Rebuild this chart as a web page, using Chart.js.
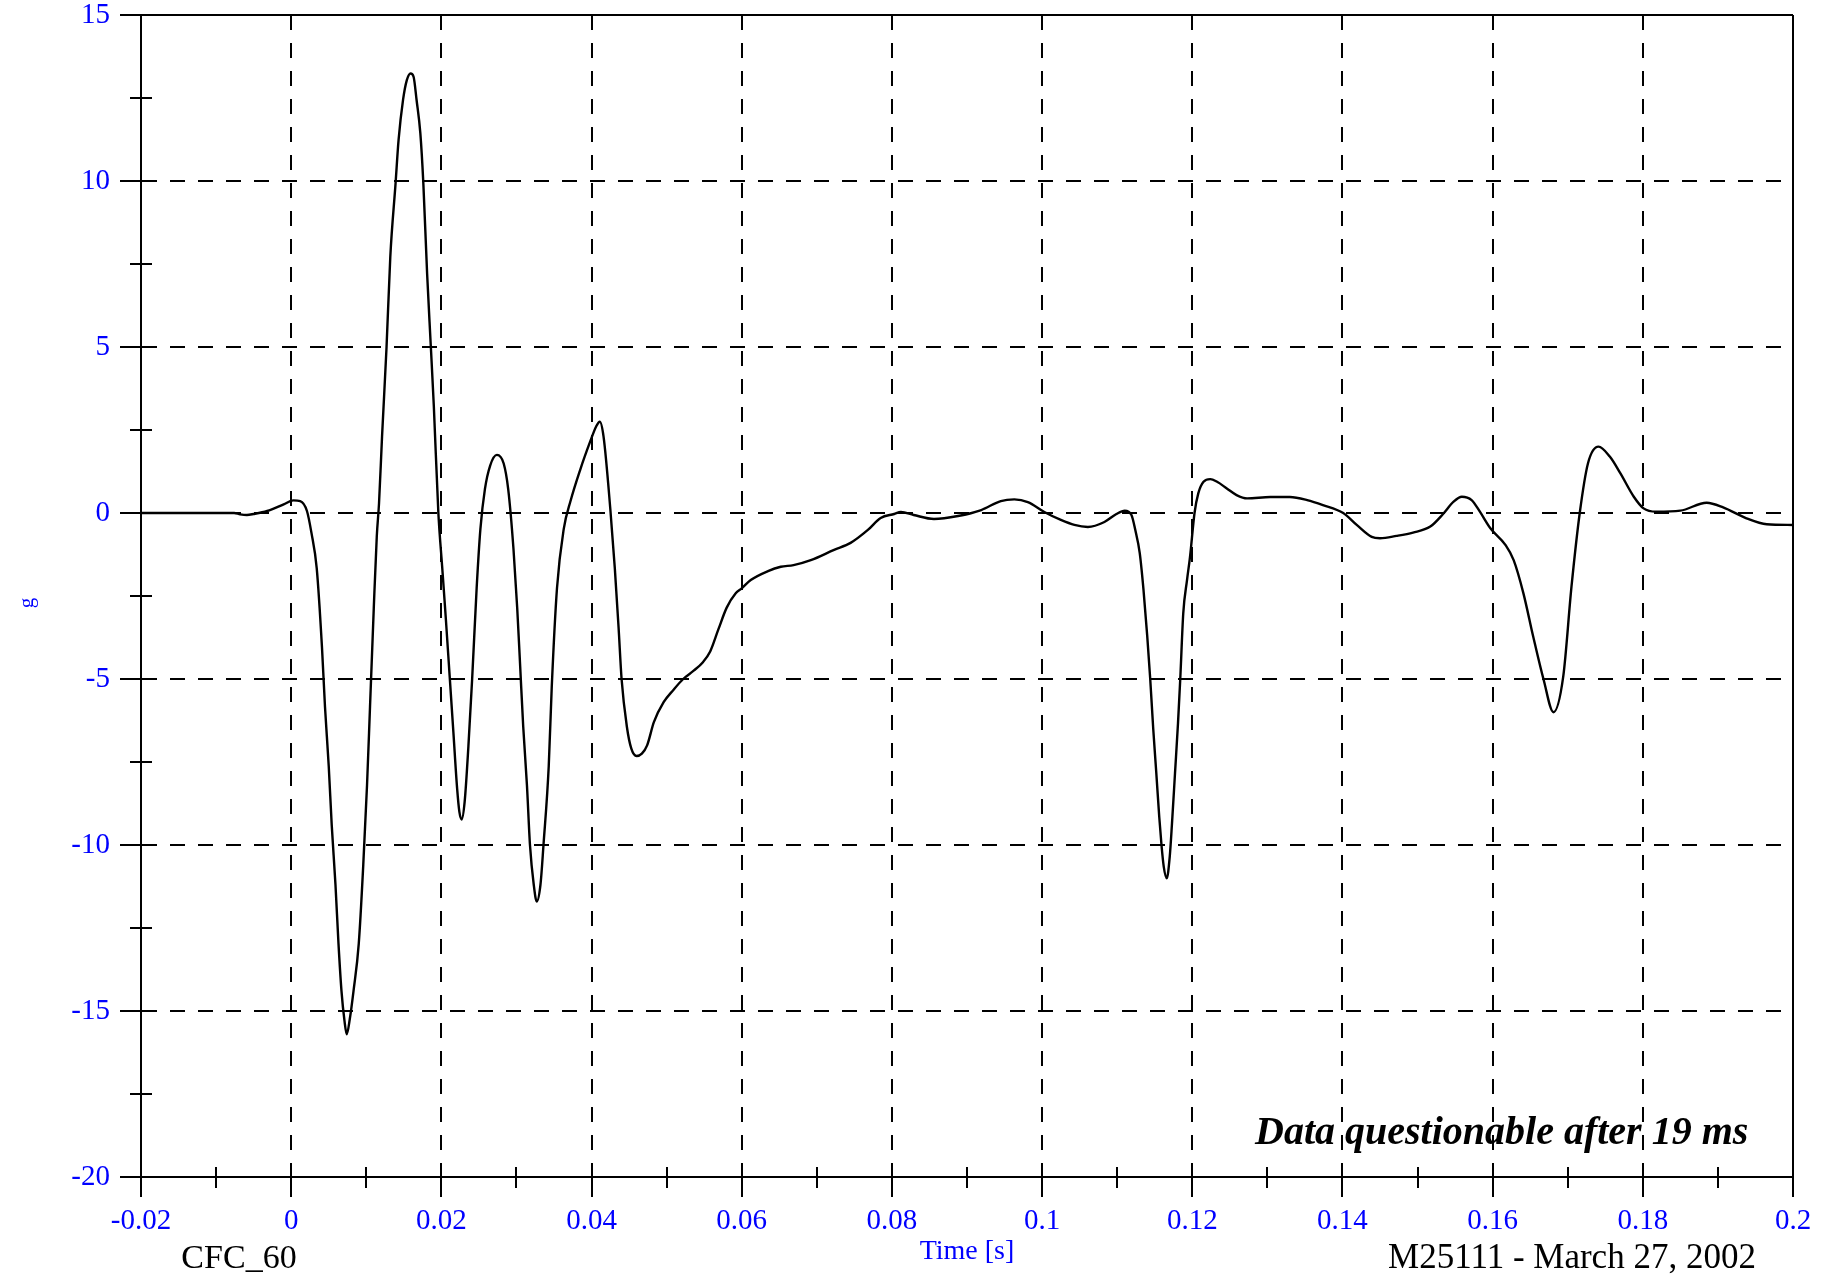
<!DOCTYPE html>
<html>
<head>
<meta charset="utf-8">
<title>CFC_60 - M25111</title>
<script src="https://cdn.jsdelivr.net/npm/chart.js@4.4.1/dist/chart.umd.min.js"></script>
<style>
  html, body { margin: 0; padding: 0; background: #fff; }
  #wrap { width: 1835px; height: 1277px; }
</style>
</head>
<body>
<div id="wrap"><canvas id="plot" width="1835" height="1277"></canvas></div>
<script>
/* acceleration trace (g) against time (s) */

const xTickValues = [-0.02, 0, 0.02, 0.04, 0.06, 0.08, 0.1, 0.12, 0.14, 0.16, 0.18, 0.2];
const xTickLabels = ['-0.02', '0', '0.02', '0.04', '0.06', '0.08', '0.1', '0.12', '0.14', '0.16', '0.18', '0.2'];
const yTickValues = [-20, -15, -10, -5, 0, 5, 10, 15];
const yTickLabels = ['-20', '-15', '-10', '-5', '0', '5', '10', '15'];

const timeS = [
    -0.02, -0.0076, -0.0068, -0.0059, -0.0050, -0.0032, -0.0010, 0.0003, 0.0012, 0.0021,
    0.0027, 0.0034, 0.0041, 0.0045, 0.0050, 0.0054, 0.0059, 0.0063, 0.0067, 0.0071,
    0.0074, 0.0078, 0.0083, 0.0090, 0.0096, 0.0101, 0.0105, 0.0110, 0.0114, 0.0117,
    0.0121, 0.0127, 0.0132, 0.0139, 0.0143, 0.0149, 0.0154, 0.0159, 0.0163, 0.0167,
    0.0172, 0.0176, 0.0181, 0.0186, 0.0190, 0.0196, 0.0201, 0.0206, 0.0211, 0.0216,
    0.0221, 0.0224, 0.0227, 0.0231, 0.0236, 0.0241, 0.0247, 0.0252, 0.0258, 0.0265,
    0.0274, 0.0283, 0.0289, 0.0296, 0.0301, 0.0305, 0.0309, 0.0314, 0.0318, 0.0323,
    0.0327, 0.0332, 0.0336, 0.0343, 0.0347, 0.0354, 0.0363, 0.0372, 0.0385, 0.0398,
    0.0406, 0.0411, 0.0416, 0.0425, 0.0431, 0.0436, 0.0440, 0.0447, 0.0453, 0.0460,
    0.0467, 0.0474, 0.0483, 0.0496, 0.0509, 0.0522, 0.0536, 0.0548, 0.0558, 0.0569,
    0.0580, 0.0592, 0.0600, 0.0612, 0.0635, 0.0652, 0.0669, 0.0692, 0.0723, 0.0745,
    0.0768, 0.0785, 0.0803, 0.0812, 0.0829, 0.0856, 0.0888, 0.0919, 0.0945, 0.0963,
    0.0981, 0.1003, 0.1025, 0.1043, 0.1061, 0.1083, 0.1099, 0.1110, 0.1119, 0.1124,
    0.1130, 0.1135, 0.1140, 0.1144, 0.1148, 0.1152, 0.1156, 0.1159, 0.1162, 0.1166,
    0.1170, 0.1173, 0.1177, 0.1181, 0.1184, 0.1188, 0.1193, 0.1197, 0.1203, 0.1208,
    0.1215, 0.1224, 0.1233, 0.1246, 0.1259, 0.1273, 0.1304, 0.1330, 0.1353, 0.1374,
    0.1401, 0.1419, 0.1439, 0.1450, 0.1472, 0.1494, 0.1517, 0.1534, 0.1548, 0.1559,
    0.1572, 0.1583, 0.1597, 0.1617, 0.1628, 0.1641, 0.1654, 0.1668, 0.1681, 0.1694,
    0.1705, 0.1716, 0.1727, 0.1741, 0.1756, 0.1770, 0.1788, 0.1801, 0.1818, 0.1850,
    0.1885, 0.1907, 0.1938, 0.1965, 0.2000
];

const accelG = [
    0, 0, -0.04, -0.06, -0.03, 0.06, 0.26, 0.38, 0.36, 0.06,
    -0.6, -1.66, -4.04, -5.83, -7.62, -9.4, -11.2, -12.97, -14.4, -15.3,
    -15.7, -15.25, -14.4, -12.97, -10.6, -8.2, -5.83, -2.86, -0.7, 0.3,
    2.3, 5.0, 7.72, 9.93, 11.23, 12.45, 13.04, 13.24, 13.14, 12.44,
    11.44, 9.93, 7.22, 5.0, 3.2, 0, -1.6, -3.2, -4.9, -6.6,
    -8.3, -9.0, -9.23, -8.7, -7.03, -5, -2.26, -0.48, 0.72, 1.43,
    1.75, 1.49, 0.72, -1.07, -2.86, -4.64, -6.43, -8.21, -10, -11.19,
    -11.7, -11.19, -10, -7.62, -5.24, -2.26, -0.48, 0.36, 1.31, 2.14,
    2.6, 2.75, 2.3, 0.12, -1.67, -3.45, -5, -6.43, -7.1, -7.32,
    -7.25, -7.0, -6.3, -5.7, -5.33, -5.0, -4.75, -4.5, -4.17, -3.5,
    -2.85, -2.42, -2.27, -2.02, -1.75, -1.62, -1.57, -1.42, -1.11, -0.9,
    -0.51, -0.15, -0.03, 0.03, -0.06, -0.18, -0.09, 0.09, 0.36, 0.41,
    0.33, 0.03, -0.21, -0.36, -0.42, -0.27, -0.03, 0.07, -0.06, -0.5,
    -1.2, -2.3, -3.7, -5.0, -6.5, -7.8, -9.15, -10.0, -10.65, -11.0,
    -10.35, -9.35, -7.84, -6.33, -5.0, -3.02, -2.02, -1.32, 0, 0.59,
    0.94, 1.02, 0.94, 0.74, 0.54, 0.44, 0.48, 0.48, 0.39, 0.24,
    0, -0.36, -0.72, -0.76, -0.69, -0.59, -0.41, -0.03, 0.34, 0.49,
    0.39, 0.04, -0.46, -0.96, -1.42, -2.42, -3.72, -5.03, -6.0, -4.93,
    -2.22, 0, 1.5, 2.0, 1.7, 1.2, 0.49, 0.14, 0.04, 0.07,
    0.31, 0.17, -0.16, -0.34, -0.36
];

const SERIF = '"Liberation Serif", "Times New Roman", serif';
const BLUE = '#0000ff';
const GRID_DASH = [15, 13];

// minor ticks (crossing the axes), the rotated unit label and the notes under the plot
const extras = {
    id: 'extras',
    afterDraw(chart) {
        const { ctx, chartArea, scales } = chart;
        const xs = scales.x, ys = scales.y;
        ctx.save();
        ctx.strokeStyle = '#000';
        ctx.lineWidth = 2;
        ctx.beginPath();
        for (let i = 0; i < xs.ticks.length - 1; i++) {
            const px = Math.round(xs.getPixelForValue((xs.ticks[i].value + xs.ticks[i + 1].value) / 2));
            ctx.moveTo(px, chartArea.bottom - 10);
            ctx.lineTo(px, chartArea.bottom + 11);
        }
        for (let i = 0; i < ys.ticks.length - 1; i++) {
            const py = Math.round(ys.getPixelForValue((ys.ticks[i].value + ys.ticks[i + 1].value) / 2));
            ctx.moveTo(chartArea.left - 11, py);
            ctx.lineTo(chartArea.left + 11, py);
        }
        ctx.stroke();

        // y unit, rotated like the original
        ctx.save();
        ctx.translate(27, 603);
        ctx.rotate(-Math.PI / 2);
        ctx.fillStyle = BLUE;
        ctx.font = '21px ' + SERIF;
        ctx.textAlign = 'center';
        ctx.textBaseline = 'middle';
        ctx.fillText('g', 0, 0);
        ctx.restore();

        ctx.fillStyle = '#000';
        ctx.textBaseline = 'alphabetic';
        ctx.font = 'italic bold 40px ' + SERIF;
        ctx.textAlign = 'left';
        ctx.fillText('Data questionable after 19 ms', 1255, 1144);

        ctx.font = '34px ' + SERIF;
        ctx.textAlign = 'center';
        ctx.fillText('CFC_60', 239, 1268);
        ctx.font = '35px ' + SERIF;
        ctx.fillText('M25111 - March 27, 2002', 1572, 1268);
        ctx.restore();
    }
};

const ctx = document.getElementById('plot');
new Chart(ctx, {
    type: 'line',
    data: {
        datasets: [{
            data: timeS.map((t, i) => ({ x: t, y: accelG[i] })),
            borderColor: '#000',
            borderWidth: 2.4,
            pointRadius: 0,
            fill: false,
            cubicInterpolationMode: 'monotone'
        }]
    },
    options: {
        responsive: false,
        animation: false,
        devicePixelRatio: 1,
        layout: { padding: { left: 0, top: 15, right: 42, bottom: 0 } },
        plugins: { legend: { display: false }, tooltip: { enabled: false } },
        scales: {
            x: {
                type: 'linear',
                min: -0.02,
                max: 0.2,
                afterBuildTicks: s => { s.ticks = xTickValues.map(v => ({ value: v })); },
                afterFit: s => { s.height = 100; s.paddingLeft = 0; s.paddingRight = 0; },
                ticks: {
                    color: BLUE,
                    font: { family: SERIF, size: 29, lineHeight: 1 },
                    padding: 10,
                    autoSkip: false,
                    maxRotation: 0,
                    minRotation: 0,
                    callback: (v, i) => xTickLabels[i]
                },
                grid: { color: '#000', lineWidth: 2, tickLength: 20, tickColor: '#000', tickWidth: 2 },
                border: {
                    display: true, color: '#000', width: 2,
                    dash: c => (c.tick && c.tick.value === 0.2) ? [] : GRID_DASH
                },
                title: {
                    display: true, text: 'Time [s]', color: BLUE,
                    font: { family: SERIF, size: 28, lineHeight: 1 },
                    padding: { top: 0, bottom: 11 }
                }
            },
            y: {
                type: 'linear',
                min: -20,
                max: 15,
                afterBuildTicks: s => { s.ticks = yTickValues.map(v => ({ value: v })); },
                afterFit: s => { s.width = 141; s.paddingTop = 0; s.paddingBottom = 0; },
                ticks: {
                    color: BLUE,
                    font: { family: SERIF, size: 29, lineHeight: 1 },
                    padding: 10,
                    autoSkip: false,
                    callback: (v, i) => yTickLabels[i]
                },
                grid: { color: '#000', lineWidth: 2, tickLength: 21, tickColor: '#000', tickWidth: 2 },
                border: {
                    display: true, color: '#000', width: 2,
                    dash: c => (c.tick && c.tick.value === 15) ? [] : GRID_DASH
                },
                title: { display: false }
            }
        }
    },
    plugins: [extras]
});
</script>
</body>
</html>
